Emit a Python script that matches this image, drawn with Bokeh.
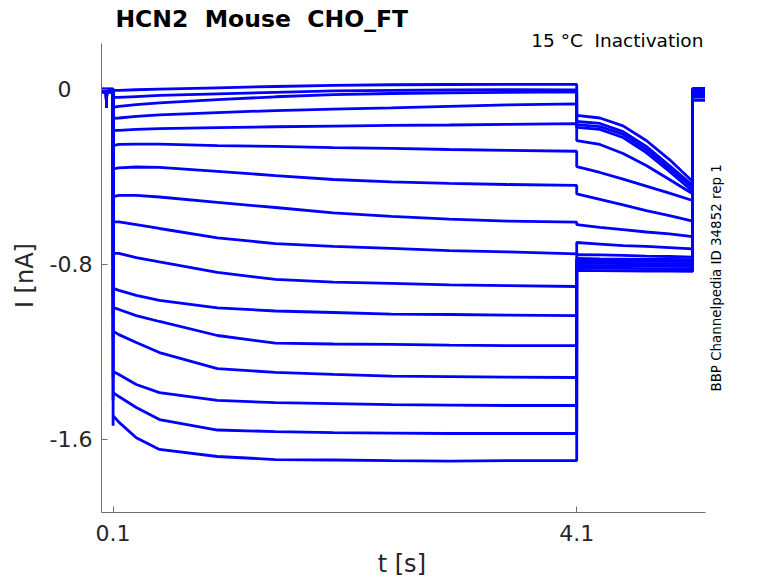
import numpy as np
from bokeh.plotting import figure
from bokeh.models import Range1d, FixedTicker, Label, ColumnDataSource
from bokeh.embed import file_html
from bokeh.resources import INLINE

NB = "\u00a0"

# ---------------- texts ----------------
title_text = "HCN2" + NB + " Mouse" + NB + " CHO_FT"
condition_text = "15 °C" + NB + " Inactivation"
source_text = "BBP Channelpedia ID 34852 rep 1"
x_label = "t [s]"
y_label = "I [nA]"

x_ticks = [0.1, 4.1]
x_tick_labels = ["0.1", "4.1"]
y_ticks = [-1.6, -0.8, 0.0]
y_tick_labels = ["-1.6", "-0.8", "0\u2007" + NB]

# axis extents (data units)
x_axis_bounds = (0.0, 5.207)
y_axis_bounds = (-1.932, 0.210)

# ---------------- data (nA), 16 sweeps ----------------
# holding before the step
pre_t = [0.0, 0.041, 0.043, 0.045, 0.1]
pre_blip = -0.08
pre_nA = [0.004, 0.003, 0.002, 0.001, 0.000, -0.001, -0.002, -0.003,
          -0.004, -0.005, -0.006, -0.007, -0.008, -0.009, -0.010, -0.012]

# onset overshoot at the step start
onset_nA = [-0.02, -0.06, -0.10, -0.15, -0.21, -0.28, -0.39, -0.52,
            -0.64, -0.78, -0.94, -1.03, -1.14, -1.32, -1.42, -1.535]

# test step
step_t = [0.1, 0.15, 0.3, 0.5, 1.0, 1.5, 2.0, 2.5, 3.0, 3.5, 4.1]
step_nA = [
    [-0.003, -0.003, 0.000, 0.003, 0.009, 0.015, 0.020, 0.023, 0.024, 0.025, 0.025],
    [-0.035, -0.035, -0.031, -0.026, -0.019, -0.012, -0.005, -0.003, -0.001, 0.000, -0.001],
    [-0.081, -0.076, -0.068, -0.060, -0.045, -0.032, -0.022, -0.017, -0.014, -0.012, -0.010],
    [-0.131, -0.129, -0.122, -0.115, -0.104, -0.095, -0.088, -0.083, -0.076, -0.069, -0.064],
    [-0.186, -0.186, -0.181, -0.178, -0.173, -0.169, -0.166, -0.163, -0.161, -0.158, -0.155],
    [-0.255, -0.250, -0.248, -0.248, -0.255, -0.259, -0.264, -0.268, -0.273, -0.277, -0.281],
    [-0.362, -0.357, -0.353, -0.355, -0.373, -0.392, -0.410, -0.421, -0.428, -0.433, -0.437],
    [-0.488, -0.483, -0.483, -0.490, -0.515, -0.538, -0.563, -0.579, -0.591, -0.600, -0.605],
    [-0.604, -0.604, -0.616, -0.634, -0.677, -0.703, -0.716, -0.725, -0.735, -0.741, -0.750],
    [-0.748, -0.748, -0.767, -0.787, -0.835, -0.867, -0.879, -0.885, -0.892, -0.895, -0.899],
    [-0.908, -0.917, -0.940, -0.963, -0.997, -1.011, -1.018, -1.025, -1.027, -1.030, -1.032],
    [-0.995, -1.004, -1.032, -1.059, -1.123, -1.158, -1.162, -1.164, -1.167, -1.169, -1.169],
    [-1.103, -1.119, -1.155, -1.201, -1.274, -1.292, -1.301, -1.309, -1.311, -1.313, -1.315],
    [-1.288, -1.301, -1.347, -1.384, -1.420, -1.430, -1.434, -1.439, -1.441, -1.443, -1.443],
    [-1.384, -1.402, -1.452, -1.507, -1.555, -1.562, -1.567, -1.569, -1.571, -1.571, -1.571],
    [-1.489, -1.519, -1.590, -1.644, -1.676, -1.690, -1.692, -1.695, -1.697, -1.695, -1.695],
]

# tail step
tail_t = [4.1, 4.3, 4.5, 4.7, 4.9, 5.1]
tail_nA = [
    [-0.117, -0.129, -0.165, -0.232, -0.319, -0.419],
    [-0.145, -0.154, -0.191, -0.259, -0.346, -0.437],
    [-0.159, -0.168, -0.204, -0.273, -0.360, -0.448],
    [-0.172, -0.181, -0.218, -0.287, -0.373, -0.464],
    [-0.232, -0.250, -0.291, -0.346, -0.410, -0.475],
    [-0.351, -0.378, -0.408, -0.440, -0.472, -0.506],
    [-0.476, -0.501, -0.526, -0.552, -0.575, -0.600],
    [-0.616, -0.629, -0.639, -0.650, -0.659, -0.671],
    [-0.698, -0.705, -0.712, -0.716, -0.721, -0.727],
    [-0.753, -0.755, -0.757, -0.760, -0.762, -0.765],
    [-0.771, -0.773, -0.774, -0.775, -0.775, -0.776],
    [-0.782, -0.783, -0.783, -0.784, -0.784, -0.785],
    [-0.792, -0.793, -0.794, -0.795, -0.795, -0.796],
    [-0.803, -0.804, -0.805, -0.806, -0.806, -0.807],
    [-0.814, -0.815, -0.816, -0.817, -0.817, -0.818],
    [-0.826, -0.827, -0.828, -0.829, -0.829, -0.830],
]

# holding after the tail
post_t = [5.1, 5.207]
post_nA = [0.006, 0.004, 0.002, 0.000, -0.002, -0.004, -0.006, -0.008,
           -0.011, -0.014, -0.017, -0.020, -0.024, -0.028, -0.033, -0.048]

# ---------------- build sweeps ----------------
xs, ys = [], []
for k in range(len(step_nA)):
    h = pre_nA[k]
    tt = list(pre_t) + [step_t[0]] + list(step_t) + list(tail_t) + list(post_t)
    vv = ([h, h, pre_blip, h, h] + [onset_nA[k]] + list(step_nA[k])
          + list(tail_nA[k]) + [post_nA[k], post_nA[k]])
    xs.append(tt)
    ys.append(vv)

src = ColumnDataSource(dict(xs=xs, ys=ys))

FONT = "DejaVu Sans"
AX = "#707070"
TXT = "#262626"

# frame reaches the top and right edges of the canvas; the axes are bounded
p = figure(width=778, height=583,
           x_range=Range1d(0.0, 5.841), y_range=Range1d(-1.932, 0.408),
           output_backend="svg", toolbar_location=None,
           min_border_left=101, min_border_right=0,
           min_border_top=0, min_border_bottom=71)
p.outline_line_color = None
p.grid.visible = False
p.background_fill_color = "white"
p.border_fill_color = "white"

p.multi_line(xs="xs", ys="ys", source=src, line_color="#0000ff", line_width=2.8)

for ax in (p.xaxis[0], p.yaxis[0]):
    ax.axis_line_color = AX
    ax.axis_line_width = 1
    ax.major_tick_line_color = AX
    ax.major_tick_in = 6
    ax.major_tick_out = 0
    ax.minor_tick_line_color = None
    ax.major_label_text_font = FONT
    ax.major_label_text_font_size = "22px"
    ax.major_label_text_color = TXT
    ax.axis_label_text_font = FONT
    ax.axis_label_text_font_size = "24px"
    ax.axis_label_text_font_style = "normal"
    ax.axis_label_text_color = TXT

# axis labels are centred on the frame; trailing no-break spaces move them
# to the centre of the drawn axis
p.xaxis.bounds = x_axis_bounds
p.xaxis.ticker = FixedTicker(ticks=x_ticks)
p.xaxis.major_label_overrides = {t: s for t, s in zip(x_ticks, x_tick_labels)}
p.xaxis.major_label_standoff = 12
p.xaxis.axis_label = x_label + NB * 10
p.xaxis.axis_label_standoff = 6

p.yaxis.bounds = y_axis_bounds
p.yaxis.ticker = FixedTicker(ticks=y_ticks)
p.yaxis.major_label_overrides = {t: s for t, s in zip(y_ticks, y_tick_labels)}
p.yaxis.major_label_standoff = 9
p.yaxis.axis_label = y_label + NB * 5
p.yaxis.axis_label_standoff = 8

p.add_layout(Label(x=0.12, y=0.324, text=title_text, text_font=FONT,
                   text_font_size="23.5px", text_font_style="bold",
                   text_align="left", text_baseline="alphabetic",
                   text_color="#000000"))
p.add_layout(Label(x=5.193, y=0.225, text=condition_text, text_font=FONT,
                   text_font_size="18.5px", text_align="right",
                   text_baseline="alphabetic", text_color="#000000"))
p.add_layout(Label(x=5.309, y=-0.860, text=source_text, text_font=FONT,
                   text_font_size="13.4px", angle=np.pi / 2,
                   text_align="center", text_baseline="alphabetic",
                   text_color="#000000"))

open("out.html", "w").write(file_html(p, INLINE))
